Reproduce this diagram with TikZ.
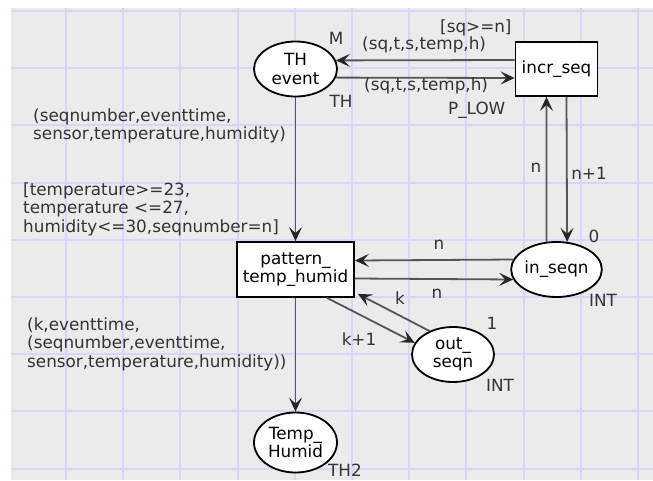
\documentclass[tikz,border=0pt]{standalone}
\usepackage{fontspec}
\setmainfont{DejaVu Sans}
\usetikzlibrary{arrows.meta,shapes.geometric}
\definecolor{bgc}{HTML}{EBEBEB}
\definecolor{gridc}{HTML}{D6D6F7}
\definecolor{arrc}{HTML}{555555}
\definecolor{txtc}{HTML}{333333}
\begin{document}
\begin{tikzpicture}[x=1pt,y=-1pt,
  every node/.style={font=\fontsize{16.8}{18.5}\selectfont},
  placenode/.style={ellipse,draw=black,line width=1.8pt,fill=white,inner sep=0pt,align=center},
  transnode/.style={rectangle,draw=black,line width=1.8pt,fill=white,inner sep=0pt,align=center},
  arcline/.style={draw=arrc,line width=1.8pt,-{Stealth[length=14pt,width=13pt,inset=6pt,color=black!85]}},
  lbl/.style={text=txtc,inner sep=0pt,anchor=west,align=left},
  gridline/.style={draw=gridc,line width=2pt}]
\useasboundingbox (0,0) rectangle (653,480);
\fill[bgc] (11,8) rectangle (653,480);
\foreach \i in {0,...,10} \draw[gridline] ({66+57.2*\i},8) -- ({66+57.2*\i},480);
\foreach \j in {0,...,8} \draw[gridline] (11,{11+57.2*\j}) -- (653,{11+57.2*\j});

\node[placenode,minimum width=83pt,minimum height=55pt] (the) at (295.5,69) {TH\\event};
\node[transnode,minimum width=82pt,minimum height=54pt] (incr) at (556.5,69) {incr\_seq};
\node[transnode,minimum width=117pt,minimum height=55pt] (pat) at (295.5,269.5) {pattern\_\\temp\_humid};
\node[placenode,minimum width=82pt,minimum height=55pt] (inseq) at (556.5,269.5) {in\_seqn};
\node[placenode,minimum width=82pt,minimum height=55pt] (outseq) at (453,354.5) {out\_\\seqn};
\node[placenode,minimum width=83pt,minimum height=60pt] (temp) at (295.5,442.5) {Temp\_\\Humid};

\draw[arcline] ([yshift=9pt]incr.west) -- (the.12.9);
\draw[arcline] (the.-12.9) -- ([yshift=-9pt]incr.west);
\draw[arcline] (the.south) -- (pat.north);
\draw[arcline] (inseq.110.6) -- ([xshift=-10pt]incr.south);
\draw[arcline] ([xshift=10pt]incr.south) -- (inseq.69.4);
\draw[arcline] (inseq.167) -- ([yshift=9pt]pat.east);
\draw[arcline] ([yshift=-9pt]pat.east) -- (inseq.193);
\draw[arcline] ([xshift=31.5pt]pat.south) -- (outseq.163);
\draw[arcline] (outseq.135) -- ([xshift=3pt,yshift=4pt]pat.south east);
\draw[arcline] (pat.south) -- (temp.north);

\node[lbl] (g1) at (440,28) {[sq>=n]};
\node[lbl,anchor=center] (m1) at (336,38) {M};
\node[lbl] (e1) at (362,45) {(sq,t,s,temp,h)};
\node[lbl] (e2) at (364,86) {(sq,t,s,temp,h)};
\node[lbl,anchor=center] (c1) at (341,101) {TH};
\node[lbl] (pr) at (448,110) {P\_LOW};
\node[lbl,anchor=center] (e3) at (536,168) {n};
\node[lbl,anchor=center] (e4) at (589,173) {n+1};
\node[lbl,anchor=center] (i0) at (594,236) {0};
\node[lbl,anchor=center] (c2) at (603,300) {INT};
\node[lbl,anchor=center] (e5) at (439,245) {n};
\node[lbl,anchor=center] (e6) at (437,294) {n};
\node[lbl,anchor=center] (e7) at (400,298) {k};
\node[lbl,anchor=center] (e8) at (359,339) {k+1};
\node[lbl,anchor=center] (i1) at (492,323) {1};
\node[lbl,anchor=center] (c3) at (500,385) {INT};
\node[lbl,anchor=center] (c4) at (345,470) {TH2};
\node[lbl] (e9) at (33,126) {(seqnumber,eventtime,\\sensor,temperature,humidity)};
\node[lbl] (g2) at (23,209) {[temperature>=23,\\temperature <=27,\\humidity<=30,seqnumber=n]};
\node[lbl] (e10) at (27,344) {(k,eventtime,\\(seqnumber,eventtime,\\sensor,temperature,humidity))};
\end{tikzpicture}
\end{document}
